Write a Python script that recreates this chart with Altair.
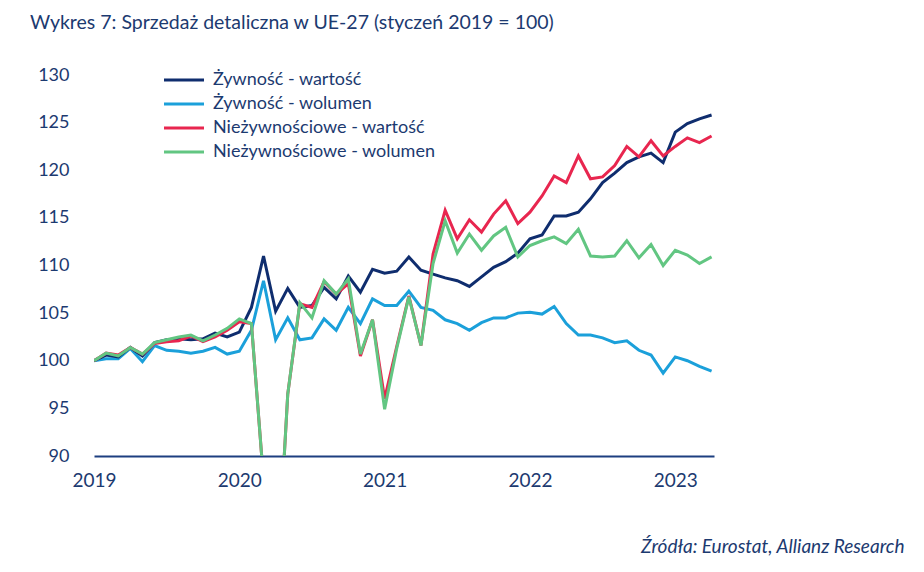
import altair as alt
import pandas as pd

# ---- data (monthly, Jan 2019 .. Apr 2023, index Jan 2019 = 100) ----
years = [2019, 2020, 2021, 2022, 2023]
n_months = 52
month_index = list(range(n_months))

series_names = [
    "Żywność - wartość",
    "Żywność - wolumen",
    "Nieżywnościowe - wartość",
    "Nieżywnościowe - wolumen",
]

food_value = [
    100.0, 100.6, 100.4, 101.4, 100.5, 101.9, 102.2, 102.3, 102.2, 102.3, 102.9, 102.5,
    103.0, 105.6, 111.0, 105.2, 107.6, 105.6, 105.8, 107.7, 106.5, 108.9, 107.2, 109.6,
    109.2, 109.4, 110.9, 109.5, 109.1, 108.7, 108.4, 107.8, 108.8, 109.8, 110.4, 111.3,
    112.8, 113.2, 115.2, 115.2, 115.6, 117.0, 118.7, 119.7, 120.8, 121.4, 121.8, 120.8,
    124.0, 124.9, 125.4, 125.8,
]
food_volume = [
    100.0, 100.2, 100.2, 101.3, 99.9, 101.6, 101.1, 101.0, 100.8, 101.0, 101.4, 100.7,
    101.0, 103.2, 108.4, 102.2, 104.5, 102.2, 102.4, 104.4, 103.2, 105.6, 103.9, 106.5,
    105.8, 105.8, 107.3, 105.6, 105.3, 104.3, 103.9, 103.2, 104.0, 104.5, 104.5, 105.0,
    105.1, 104.9, 105.7, 103.9, 102.7, 102.7, 102.4, 101.9, 102.1, 101.1, 100.6, 98.7,
    100.4, 100.0, 99.4, 98.9,
]
nonfood_value = [
    100.0, 100.8, 100.6, 101.4, 100.7, 101.8, 102.0, 102.1, 102.6, 102.0, 102.5, 103.2,
    104.1, 103.9, 87.5, 74.0, 96.5, 106.0, 105.6, 108.3, 107.0, 108.1, 100.5, 104.3,
    96.0, 101.5, 106.8, 101.6, 111.2, 115.8, 112.8, 114.8, 113.5, 115.4, 116.8, 114.4,
    115.6, 117.3, 119.4, 118.7, 121.5, 119.1, 119.3, 120.5, 122.5, 121.4, 123.1, 121.5,
    122.5, 123.4, 122.9, 123.6,
]
nonfood_volume = [
    100.0, 100.8, 100.5, 101.4, 100.7, 101.9, 102.2, 102.5, 102.7, 102.1, 102.7, 103.4,
    104.4, 103.9, 87.5, 74.0, 96.5, 106.1, 104.5, 108.4, 107.0, 108.6, 100.7, 104.3,
    94.9, 101.3, 106.7, 101.6, 110.2, 114.7, 111.3, 113.3, 111.6, 113.1, 114.0, 110.9,
    112.1, 112.6, 113.0, 112.3, 113.8, 111.0, 110.9, 111.0, 112.6, 110.8, 112.2, 110.0,
    111.6, 111.1, 110.2, 110.9,
]

y_ticks = [90, 95, 100, 105, 110, 115, 120, 125, 130]
x_ticks = [0, 12, 24, 36, 48]

colors = ["#0f2d6e", "#1ba0da", "#e8264f", "#62c682"]
TXT = "#1c3a70"
AXIS = "#1d3f80"

# draw order: light blue, navy, red, green (green on top)
draw_order = [
    (series_names[1], food_volume),
    (series_names[0], food_value),
    (series_names[2], nonfood_value),
    (series_names[3], nonfood_volume),
]
rows = []
for name, vals in draw_order:
    for i, v in zip(month_index, vals):
        rows.append({"m": i, "value": v, "series": name})
df = pd.DataFrame(rows)

chart = (
    alt.Chart(df)
    .mark_line(clip=True, strokeWidth=3, interpolate="linear")
    .encode(
        x=alt.X(
            "m:Q",
            scale=alt.Scale(domain=[0, 51.2], nice=False, zero=False),
            axis=alt.Axis(
                values=x_ticks,
                labelExpr="'' + (2019 + datum.value / 12)",
                ticks=False,
                grid=False,
                domainColor=AXIS,
                domainWidth=2,
                labelFont="Lato",
                labelFontSize=19,
                labelColor=TXT,
                labelPadding=15,
                labelFlush=False,
                labelOverlap=False,
                title="Źródła: Eurostat, Allianz Research",
                titleX=810,
                titleY=96,
                titleAlign="right",
                titleBaseline="alphabetic",
                titleFont="Lato",
                titleFontStyle="italic",
                titleFontWeight="normal",
                titleFontSize=19,
                titleColor=TXT,
            ),
        ),
        y=alt.Y(
            "value:Q",
            scale=alt.Scale(domain=[90, 130], nice=False, zero=False),
            axis=alt.Axis(
                values=y_ticks,
                ticks=False,
                domain=False,
                grid=False,
                labelFont="Lato",
                labelFontSize=18,
                labelColor=TXT,
                labelPadding=25,
                title=None,
            ),
        ),
        color=alt.Color(
            "series:N",
            scale=alt.Scale(domain=series_names, range=colors),
            legend=alt.Legend(
                orient="none",
                legendX=81,
                legendY=-4,
                title=None,
                symbolType="M-4,0H4",
                symbolSize=100,
                symbolStrokeWidth=3,
                labelOffset=20,
                labelFont="Lato",
                labelFontSize=18,
                labelColor=TXT,
                labelLimit=500,
                rowPadding=6,
                padding=0,
            ),
        ),
    )
    .properties(
        width=620,
        height=381,
        padding={"left": 86, "top": 67, "right": 200, "bottom": 100},
        autosize=alt.AutoSizeParams(type="none"),
        title=alt.TitleParams(
            text="Wykres 7: Sprzedaż detaliczna w UE-27 (styczeń 2019 = 100)",
            anchor="start",
            frame="group",
            dx=-64,
            offset=33,
            font="Lato",
            fontSize=19.5,
            fontWeight="normal",
            color=TXT,
        ),
    )
    .configure_view(stroke=None)
)

chart.save("out.html", embed_options={"renderer": "svg", "actions": False})
